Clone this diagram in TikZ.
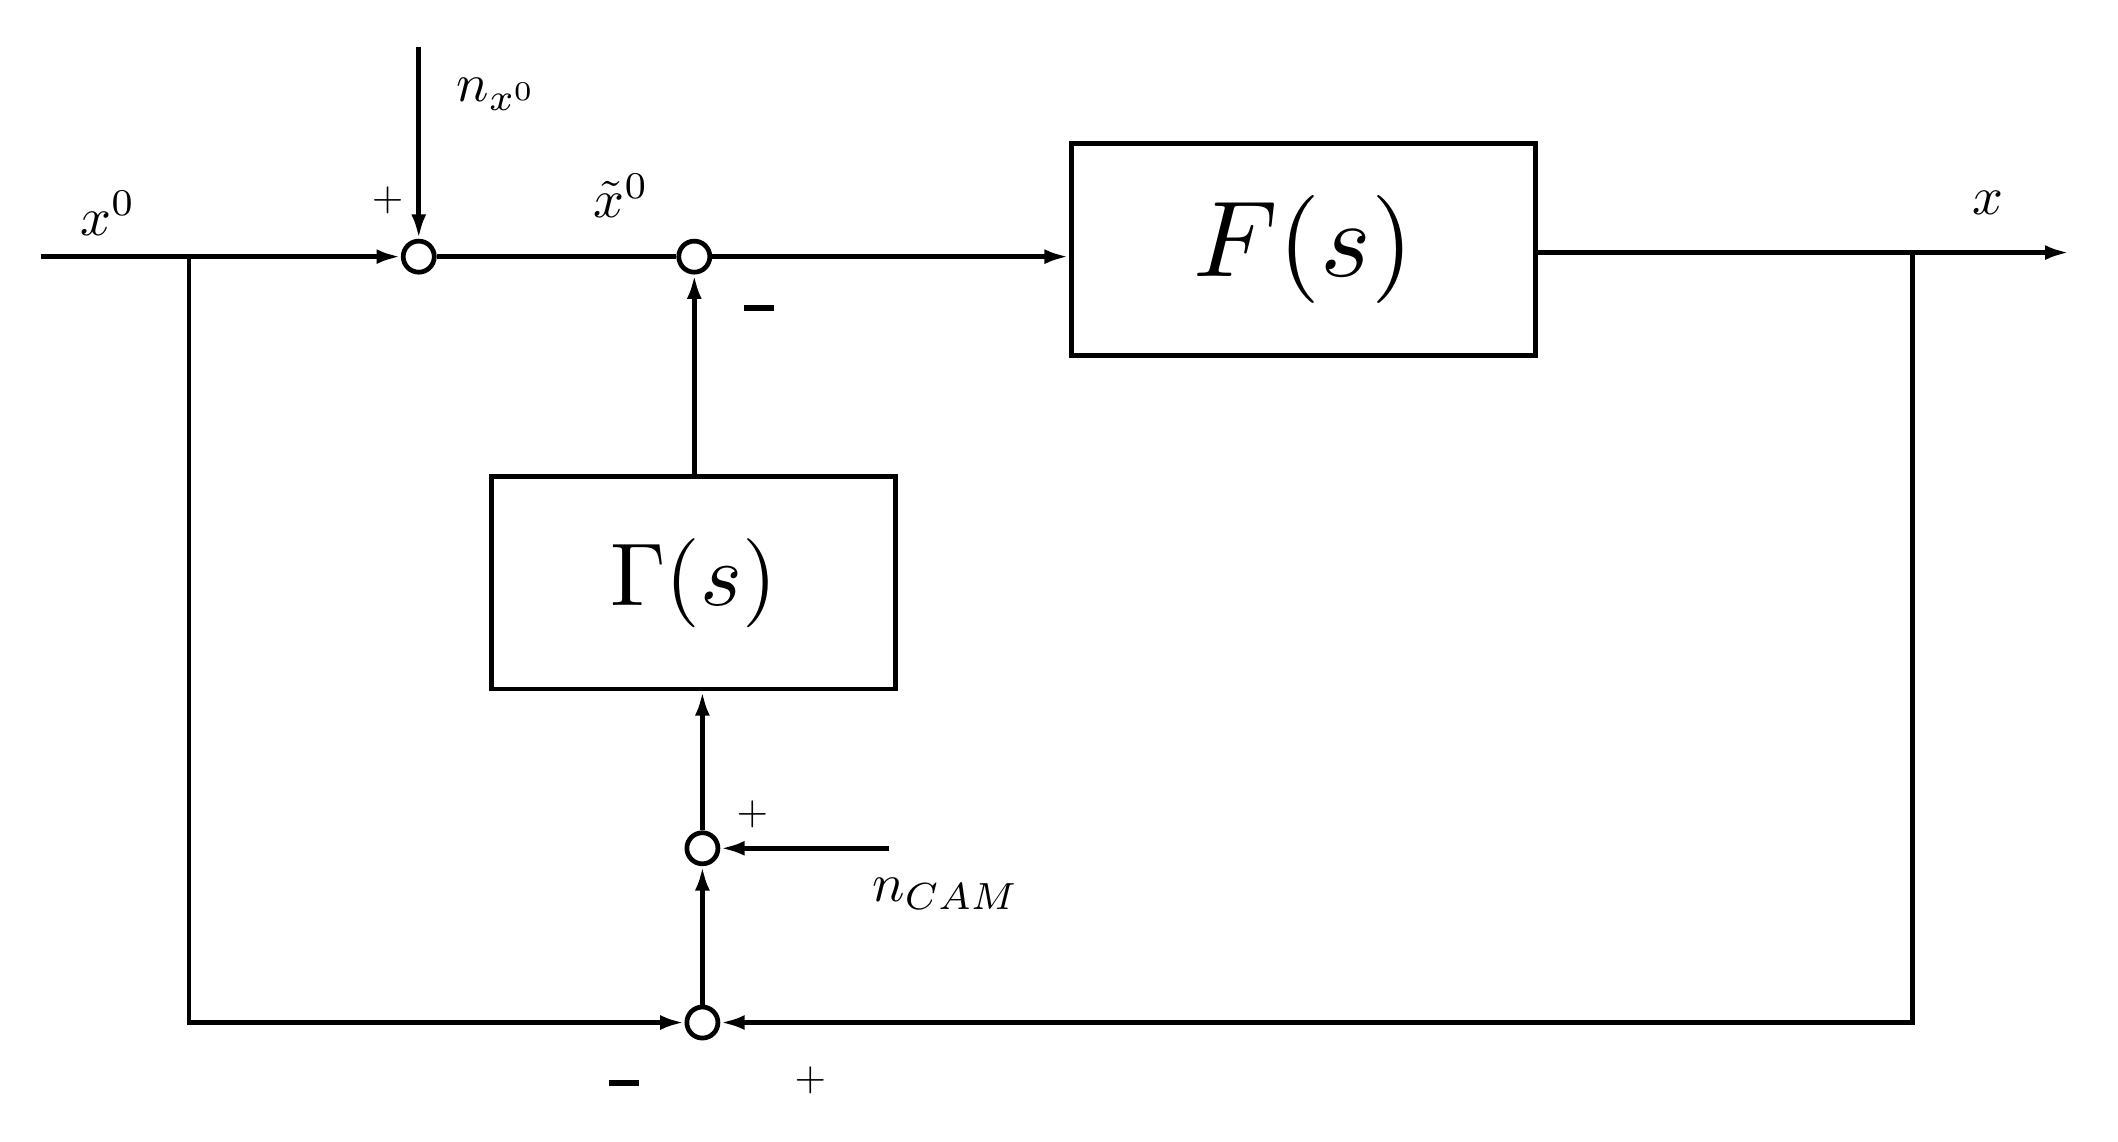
\documentclass[tikz,border=0pt]{standalone}
\usetikzlibrary{arrows.meta}
\begin{document}
\begin{tikzpicture}[x=1pt,y=-1pt,line width=3.5pt,
  sum/.style={circle,draw,line width=3.5pt,minimum size=23pt,inner sep=0pt,fill=white},
  blk/.style={draw,line width=3.5pt,inner sep=0pt},
  ar/.style={-{Latex[length=18pt,width=11pt]}},
  lbl/.style={scale=4},
  sg/.style={scale=3}]
\useasboundingbox (0,0) rectangle (1568,845);
\node[sum] (s1) at (310,190) {};
\node[sum] (s2) at (514,190) {};
\node[sum] (s4) at (520,628) {};
\node[sum] (s3) at (520,757) {};
\node[blk,minimum width=344pt,minimum height=157pt] (F) at (965,184.5) {};
\node[scale=8] (Ft) at (F.center) {$F(s)$};
\node[blk,minimum width=299pt,minimum height=157pt] (G) at (513.5,431.5) {};
\node[scale=6.6] (Gt) at (G.center) {$\Gamma(s)$};
\coordinate (in) at (30,190);
\coordinate (b1) at (140,190);
\coordinate (out) at (1532,187);
\coordinate (b2) at (1416,187);
\coordinate (n1) at (310,35);
\coordinate (nc) at (658,628);
\draw (in) -- (b1);
\draw[ar] (b1) -- (s1);
\draw[ar] (n1) -- (s1);
\draw (s1) -- (s2);
\draw[ar] (s2) -- (F.west |- s2);
\draw (F.east |- b2) -- (b2);
\draw[ar] (b2) -- (out);
\draw[ar] (b1) |- (s3);
\draw[ar] (b2) |- (s3);
\draw[ar] (s3) -- (s4);
\draw[ar] (nc) -- (s4);
\draw[ar] (s4) -- (s4 |- G.south);
\draw[ar] (s2 |- G.north) -- (s2);
\node[lbl] (lx0) at (80,158) {$x^0$};
\node[lbl] (ln) at (368,70) {$n_{x^0}$};
\node[lbl] (lxt) at (460,145) {$\tilde{x}^0$};
\node[lbl] (lx) at (1472,150) {$x$};
\node[lbl] (lnc) at (700,662) {$n_{CAM}$};
\node[sg] (p1) at (287,148) {$+$};
\node[inner sep=0pt] (m1) at (562,228) {\rule{22pt}{4.5pt}};
\node[sg] (p2) at (557,603) {$+$};
\node[inner sep=0pt] (m2) at (462,802) {\rule{22pt}{4.5pt}};
\node[sg] (p3) at (600,800) {$+$};
\end{tikzpicture}
\end{document}
